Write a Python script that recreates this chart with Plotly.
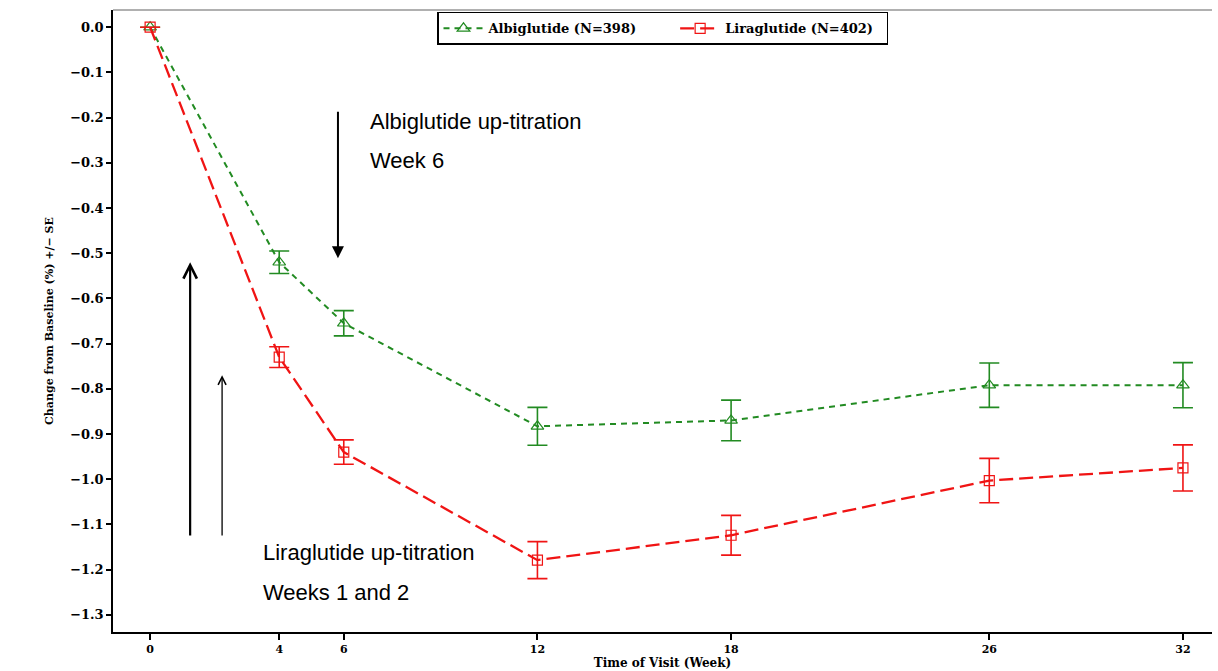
import plotly.graph_objects as go

weeks = [0, 4, 6, 12, 18, 26, 32]
x_tick_labels = ["0", "4", "6", "12", "18", "26", "32"]
albi_mean = [0.0, -0.52, -0.655, -0.883, -0.870, -0.792, -0.792]
albi_se = [0.0, 0.025, 0.028, 0.042, 0.045, 0.049, 0.050]
lira_mean = [0.0, -0.73, -0.940, -1.179, -1.124, -1.003, -0.975]
lira_se = [0.0, 0.023, 0.027, 0.041, 0.044, 0.049, 0.051]
y_ticks = [0.0, -0.1, -0.2, -0.3, -0.4, -0.5, -0.6, -0.7, -0.8, -0.9, -1.0, -1.1, -1.2, -1.3]

GREEN = "rgb(34,139,34)"
RED = "rgb(240,20,20)"
SERIF = "DejaVu Serif"

fig = go.Figure()
fig.add_trace(go.Scatter(
    x=weeks, y=albi_mean, mode="lines+markers",
    name="<b>Albiglutide (N=398)</b>&nbsp;&nbsp;&nbsp;&nbsp;&nbsp;&nbsp;&nbsp;&nbsp;",
    line=dict(color=GREEN, width=2, dash="6px,5px"),
    marker=dict(symbol="triangle-up-open", size=11, color=GREEN, line=dict(width=1.2)),
    error_y=dict(type="data", array=albi_se, visible=True, color=GREEN, thickness=1.6, width=10),
))
fig.add_trace(go.Scatter(
    x=weeks, y=lira_mean, mode="lines+markers",
    name="<b>Liraglutide (N=402)</b>&nbsp;&nbsp;",
    line=dict(color=RED, width=2.3, dash="14px,6px"),
    marker=dict(symbol="square-open", size=10, color=RED, line=dict(width=1.2)),
    error_y=dict(type="data", array=lira_se, visible=True, color=RED, thickness=1.6, width=10),
))

# arrows
arrows = [
    dict(x0=5.82, y0=-0.184, x1=5.82, y1=-0.511, w=2, head=2),
    dict(x0=1.24, y0=-1.128, x1=1.24, y1=-0.52, w=2.2, head=5),
    dict(x0=2.23, y0=-1.128, x1=2.23, y1=-0.77, w=1.3, head=5),
]
for a in arrows:
    fig.add_annotation(x=a["x1"], y=a["y1"], ax=a["x0"], ay=a["y0"], xref="x", yref="y",
                       axref="x", ayref="y", showarrow=True, arrowhead=a["head"],
                       arrowsize=1.2, arrowwidth=a["w"], arrowcolor="black", text="")

texts = [
    ("Albiglutide up-titration", 6.75, -0.208),
    ("Week 6", 6.75, -0.295),
    ("Liraglutide up-titration", 3.45, -1.163),
    ("Weeks 1 and 2", 3.45, -1.251),
]
for t, x, y in texts:
    fig.add_annotation(x=x, y=y, xref="x", yref="y", text=t, showarrow=False,
                       xanchor="left", yanchor="middle",
                       font=dict(family="Liberation Sans", size=22, color="black"))

# top frame line
fig.add_shape(type="line", xref="paper", yref="paper", x0=0, x1=1, y0=1, y1=1,
              line=dict(color="rgb(150,150,150)", width=1.5))

fig.update_layout(
    width=1218, height=671,
    margin=dict(l=113, r=6, t=10, b=39),
    paper_bgcolor="white", plot_bgcolor="white",
    font=dict(family=SERIF, color="black"),
    showlegend=True,
    legend=dict(orientation="h", x=0.5, xanchor="center", y=0.997, yanchor="top",
                bordercolor="black", borderwidth=1.5, bgcolor="white",
                font=dict(family=SERIF, size=13, color="black"),
                itemwidth=40, tracegroupgap=0),
)
fig.update_xaxes(
    range=[-1.15, 32.9], tickvals=weeks, ticktext=[f"<b>{t}</b>" for t in x_tick_labels],
    showgrid=False, zeroline=False, showline=True, linecolor="black", linewidth=1.5,
    ticks="outside", ticklen=6, tickwidth=2, tickcolor="black",
    tickfont=dict(family=SERIF, size=11, color="black"),
    title=dict(text="<b>Time of Visit (Week)</b>", font=dict(family=SERIF, size=12), standoff=2),
)
fig.update_yaxes(
    range=[-1.338, 0.038], tickvals=y_ticks,
    ticktext=["<b>" + f"{v:.1f}".replace("-", "−") + "</b>" for v in y_ticks],
    showgrid=False, zeroline=False, showline=True, linecolor="black", linewidth=1.5,
    ticks="outside", ticklen=5, tickwidth=1.5, tickcolor="black",
    tickfont=dict(family=SERIF, size=13, color="black"),
    title=dict(text="<b>Change from Baseline (%) +/− SE</b>", font=dict(family=SERIF, size=11), standoff=14),
)

fig.write_html("out.html")
